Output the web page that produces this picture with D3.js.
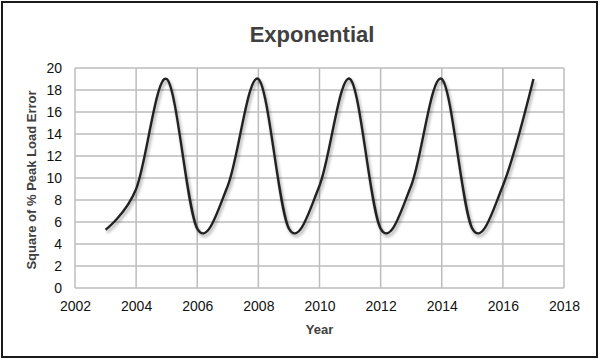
<!DOCTYPE html>
<html><head><meta charset="utf-8">
<script src="https://cdn.jsdelivr.net/npm/d3@7"></script>
<style>body{margin:0;background:#fff}svg{display:block}</style>
</head><body>
<svg id="c" width="601" height="364"></svg>
<script>
const years = [2003,2004,2005,2006,2007,2008,2009,2010,2011,2012,2013,2014,2015,2016,2017];
const values = [5.3,9.0,19,5.4,9.3,19,5.4,9.3,19,5.4,9.3,19,5.4,9.3,19];
const xTicks = [2002,2004,2006,2008,2010,2012,2014,2016,2018];
const yTicks = [0,2,4,6,8,10,12,14,16,18,20];
const title = "Exponential", xTitle = "Year", yTitle = "Square of % Peak Load Error";

const svg = d3.select("#c");
const m = {l:75, r:564, t:68, b:288};
const x = d3.scaleLinear().domain([2002,2018]).range([m.l,m.r]);
const y = d3.scaleLinear().domain([0,20]).range([m.b,m.t]);
const font = "'Liberation Sans', Arial, sans-serif";

svg.append("rect").attr("x",2).attr("y",2).attr("width",595).attr("height",355)
  .attr("fill","#fff").attr("stroke","#1a1a1a").attr("stroke-width",2);

const defs = svg.append("defs");
const f = defs.append("filter").attr("id","sh").attr("x","-10%").attr("y","-10%").attr("width","120%").attr("height","130%");
f.append("feDropShadow").attr("dx",1.5).attr("dy",2.5).attr("stdDeviation",1.6)
  .attr("flood-color","#000").attr("flood-opacity",0.35);

// grid
svg.append("g").selectAll("line").data(yTicks).join("line")
  .attr("x1",m.l).attr("x2",m.r).attr("y1",d=>y(d)).attr("y2",d=>y(d))
  .attr("stroke","#bdbdbd").attr("stroke-width",1.5);
svg.append("g").selectAll("line").data(xTicks).join("line")
  .attr("y1",m.t).attr("y2",m.b).attr("x1",d=>x(d)).attr("x2",d=>x(d))
  .attr("stroke","#bdbdbd").attr("stroke-width",1.5);

// axes labels
const xa = svg.append("g").attr("transform",`translate(0,${m.b})`)
  .call(d3.axisBottom(x).tickValues(xTicks).tickFormat(d3.format("d")).tickSize(0).tickPadding(13));
xa.select(".domain").remove();
xa.selectAll("text").attr("font-family",font).attr("font-size",14).attr("fill","#111");
const ya = svg.append("g").attr("transform",`translate(${m.l},0)`)
  .call(d3.axisLeft(y).tickValues(yTicks).tickSize(0).tickPadding(13));
ya.select(".domain").remove();
ya.selectAll("text").attr("font-family",font).attr("font-size",14).attr("fill","#111");

// line
const line = d3.line().x((d,i)=>x(years[i])).y(d=>y(d)).curve(d3.curveCatmullRom.alpha(0));
svg.append("path").datum(values).attr("d",line).attr("fill","none")
  .attr("stroke","#222").attr("stroke-width",2.4).attr("filter","url(#sh)");

// titles
svg.append("text").attr("x",312).attr("y",42).attr("text-anchor","middle")
  .attr("font-family",font).attr("font-weight","bold").attr("font-size",22).attr("fill","#404040").text(title);
svg.append("text").attr("x",(m.l+m.r)/2).attr("y",334).attr("text-anchor","middle")
  .attr("font-family",font).attr("font-weight","bold").attr("font-size",13).attr("fill","#404040").text(xTitle);
svg.append("text").attr("transform",`translate(36,${(m.t+m.b)/2+2}) rotate(-90)`).attr("text-anchor","middle")
  .attr("font-family",font).attr("font-weight","bold").attr("font-size",13).attr("fill","#404040").text(yTitle);
</script>
</body></html>
